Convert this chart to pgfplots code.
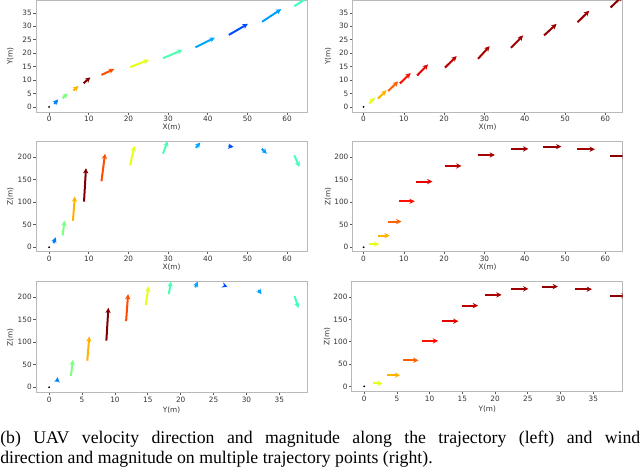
\documentclass[border=0pt]{standalone}
\usepackage{fontspec}
\setmainfont{Liberation Serif}
\newfontfamily\tickfont{DejaVu Sans}
\usepackage{pgfplots}
\pgfplotsset{compat=1.18}
\usepackage{pgfplotstable}
\usetikzlibrary{arrows.meta}

% tail x, tail y, u, v, colour value (jet 0..1)
\pgfplotstableread{
x y u v c
1.3 1.1 1.0 1.7 0.25
3.4 3.2 1.3 1.9 0.5
6.1 6.1 1.3 1.7 0.7
8.7 8.8 1.7 2.2 1.0
13.2 11.9 3.2 2.2 0.8
20.4 14.8 4.8 2.7 0.6
28.7 18.1 4.9 3.1 0.45
36.9 22.2 4.9 3.6 0.29
45.3 26.8 4.8 4.1 0.2
53.7 31.7 4.8 4.7 0.28
61.8 37.5 4.8 4.5 0.44
}\velxy
\pgfplotstableread{
x y u v c
1.1 8.9 0.6 13 0.25
3.4 25.9 0.5 33 0.5
6.0 58.5 0.5 54 0.7
8.8 101 0.5 74 1.0
13.2 146 0.9 61 0.8
20.4 181 1.1 43 0.6
28.7 207 1.2 28 0.45
37.0 220 1.1 12 0.29
45.2 223.6 1.3 -1.5 0.2
53.6 218 1.3 -11 0.28
61.8 203.6 1.3 -26 0.44
}\velxz
\pgfplotstableread{
x y u v c
1.2 12.5 0.1 10 0.25
3.3 25 0.3 36 0.5
5.8 59 0.3 54 0.7
8.7 103.6 0.3 73 1.0
11.7 147 0.3 60 0.8
14.7 183 0.4 41 0.6
18.2 207 0.3 28 0.45
22.2 222 0.4 13 0.29
26.8 225 0.3 -1.5 0.2
31.8 216 0.5 -9 0.28
37.3 203 0.6 -27 0.44
}\velyz
\pgfplotstableread{
x y u v c
1.4 1.25 1.4 2.2 0.6
3.6 3.1 2.1 3.1 0.7
6.1 5.9 2.5 3.6 0.78
9.0 8.7 2.7 3.9 0.86
13.3 11.7 2.7 4.1 0.9
20.2 14.6 2.9 4.3 0.94
28.4 17.9 2.9 4.7 0.96
36.6 22.0 3.0 4.6 0.97
44.8 26.6 3.1 4.3 0.98
53.1 31.5 2.9 4.3 0.97
61.3 37.0 3.0 4.3 0.99
}\windxy
\pgfplotstableread{
x y u v c
1.4 6.7 2.5 0 0.6
3.6 25.8 2.9 0 0.7
6.1 57 3.3 0 0.78
8.8 102 3.9 0 0.86
13.1 146 4.0 0 0.9
20.2 180.7 4.1 0 0.94
28.3 205 4.3 0 0.96
36.5 218.5 4.4 0 0.97
44.6 223.6 4.5 0 0.98
53.0 217.8 4.4 0 0.97
61.1 203.6 4.4 0 0.99
}\windxz
\pgfplotstableread{
x y u v c
1.3 6.7 1.5 0 0.6
3.5 25 2.0 0 0.7
6.0 58.5 2.3 0 0.78
8.8 102 2.5 0 0.86
11.9 146 2.5 0 0.9
14.9 181 2.5 0 0.94
18.4 205 2.6 0 0.96
22.4 218.5 2.7 0 0.97
27.1 223.6 2.5 0 0.98
32.2 217.8 2.6 0 0.97
37.6 203 2.5 0 0.99
}\windyz

\newcommand\smallsans{\tickfont\fontsize{5.5}{6}\selectfont}

\pgfplotsset{
  quivpanel/.style={
    scale only axis, anchor=south west,
    axis line style={gray!55, line width=0.6pt},
    tick style={black!65, line width=0.5pt},
    major tick length=2pt, tick align=outside, tick pos=left,
    ticklabel style={font=\smallsans, inner sep=1pt, text=black!80},
    /pgf/number format/assume math mode=true,
    colormap/jet, point meta min=0, point meta max=1,
    ylabelpos/.style={every axis y label/.style={at={(axis description cs:##1,0.5)},
      rotate=90, anchor=center, font=\smallsans, text=black!80}},
    xlabelpos/.style={every axis x label/.style={at={(axis description cs:0.5,##1)},
      anchor=center, font=\smallsans, text=black!80}},
    ylabelpos=-0.095,
  },
  xrange/.style={xmin=-3.3, xmax=65, xtick={0,10,...,60}},
  xrangeR/.style={xmin=-2.7, xmax=64.3, xtick={0,10,...,60}},
  zrange/.style={ymin=-10, ymax=234, ytick={0,50,...,200}},
  quivarrows/.style={
    quiver={u=\thisrow{u}, v=\thisrow{v},
      every arrow/.append style={draw=mapped color, line width=1.5pt,
        -{Stealth[length=4pt, width=4pt]}}},
    point meta=\thisrow{c}},
  origindot/.style={only marks, mark=*, mark size=0.45pt, black},
}

\begin{document}
\begin{tikzpicture}
\useasboundingbox (0,0) rectangle (480pt,355.5pt);

% left column: UAV velocity
\begin{axis}[quivpanel, at={(27pt,271.5pt)}, width=203.25pt, height=83.6pt,
  xrange, ymin=-1.9, ymax=39.6, ytick={0,5,...,35},
  xlabel={X(m)}, ylabel={Y(m)}, xlabelpos=-0.132]
\addplot[quivarrows] table[x=x, y=y] {\velxy};
\addplot[origindot] coordinates {(0,0)};
\end{axis}

\begin{axis}[quivpanel, at={(27pt,166.7pt)}, width=203.25pt, height=82.65pt,
  xrange, zrange,
  xlabel={X(m)}, ylabel={Z(m)}, xlabelpos=-0.14]
\addplot[quivarrows] table[x=x, y=y] {\velxz};
\addplot[origindot] coordinates {(0,0)};
\end{axis}

\begin{axis}[quivpanel, at={(27pt,61pt)}, width=203.25pt, height=83.25pt,
  xmin=-2.0, xmax=39.2, xtick={0,5,...,35}, ymin=-12, ymax=234.7, ytick={0,50,...,200},
  xlabel={Y(m)}, ylabel={Z(m)}, xlabelpos=-0.156]
\addplot[quivarrows] table[x=x, y=y] {\velyz};
\addplot[origindot] coordinates {(0,0)};
\end{axis}

% right column: wind
\begin{axis}[quivpanel, at={(264.5pt,271.5pt)}, width=202.5pt, height=83.6pt,
  xrangeR, ymin=-1.9, ymax=39.6, ytick={0,5,...,35},
  xlabel={X(m)}, ylabel={Y(m)}, ylabelpos=-0.091, xlabelpos=-0.132]
\addplot[quivarrows] table[x=x, y=y] {\windxy};
\addplot[origindot] coordinates {(0,0)};
\end{axis}

\begin{axis}[quivpanel, at={(264.5pt,166.7pt)}, width=202.5pt, height=83pt,
  xrangeR, ymin=-10, ymax=236, ytick={0,50,...,200},
  xlabel={X(m)}, ylabel={Z(m)}, ylabelpos=-0.091, xlabelpos=-0.14]
\addplot[quivarrows] table[x=x, y=y] {\windxz};
\addplot[origindot] coordinates {(0,0)};
\end{axis}

\begin{axis}[quivpanel, at={(263.8pt,61.7pt)}, width=203.25pt, height=83pt,
  xmin=-1.9, xmax=39.5, xtick={0,5,...,35}, ymin=-12, ymax=236, ytick={0,50,...,200},
  xlabel={Y(m)}, ylabel={Z(m)}, ylabelpos=-0.091, xlabelpos=-0.156]
\addplot[quivarrows] table[x=x, y=y] {\windyz};
\addplot[origindot] coordinates {(0,0)};
\end{axis}

\node[anchor=base west, inner sep=0pt] at (0,23pt) {\parbox[t]{480pt}{\fontsize{13.3}{15}\selectfont
(b) UAV velocity direction and magnitude along the trajectory (left) and wind\linebreak
direction and magnitude on multiple trajectory points (right).}};
\end{tikzpicture}
\end{document}
